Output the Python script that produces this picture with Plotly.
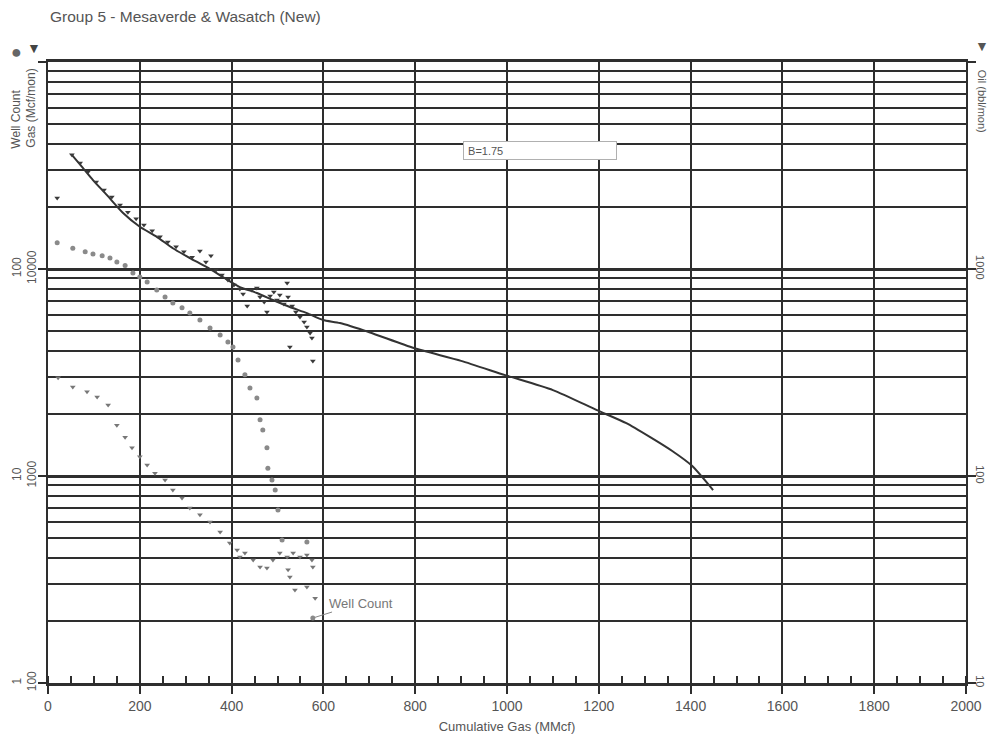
import math
import plotly.graph_objects as go

# ---- data ----
# Gas rate (Mcf/mon), monthly data points
gas_cum = [20, 52, 70, 87, 105, 122, 139, 157, 174, 192, 209, 227, 244, 261, 279, 296, 314,
           331, 344, 355, 366, 379, 392, 405, 418, 425, 434, 444, 455, 462, 471, 477, 484,
           492, 499, 505, 514, 521, 523, 527, 532, 540, 549, 558, 564, 571, 575, 577]
gas_rate = [22000, 35600, 32500, 29400, 26300, 24100, 22300, 20400, 18800, 17500, 16300, 15300,
            14300, 13500, 12800, 12100, 11400, 12200, 10800, 11600, 9890, 9360, 8850, 8370,
            8000, 7570, 6620, 7920, 8090, 7330, 6930, 6190, 7410, 7740, 7080, 7480, 6780, 8550,
            7330, 4200, 6620, 6190, 5860, 5550, 5250, 4910, 4640, 3590]

# Forecast (b = 1.75)
fc_cum = [52, 76, 98, 128, 163, 200, 237, 272, 309, 346, 381, 418, 455, 490, 527, 564, 599,
          636, 700, 797, 900, 996, 1100, 1196, 1260, 1312, 1360, 1403, 1449]
fc_rate = [35600, 30800, 26900, 22800, 18700, 16000, 14300, 12600, 11300, 10200, 9150, 8180,
           7660, 7080, 6550, 6120, 5670, 5480, 4950, 4150, 3600, 3070, 2600, 2080, 1800, 1540,
           1320, 1120, 855]

# Oil rate (bbl/mon)
oil_cum = [22, 54, 85, 107, 131, 150, 168, 183, 200, 216, 233, 255, 272, 292, 309, 331, 353,
           375, 396, 412, 418, 429, 447, 462, 477, 490, 505, 521, 523, 527, 534, 538, 549,
           564, 564, 575, 577, 582]
oil_rate = [298, 269, 255, 241, 220, 176, 154, 137, 124, 113, 103, 95.7, 85.5, 78.3, 70.0,
            64.9, 60.0, 53.6, 47.5, 43.9, 40.6, 42.5, 39.3, 36.3, 35.9, 39.3, 42.5, 40.6, 35.2,
            32.5, 42.5, 28.1, 40.6, 41.5, 29.1, 39.3, 36.3, 25.7]

# Well count
wc_cum = [20, 54, 81, 98, 118, 135, 150, 168, 185, 200, 216, 237, 255, 272, 292, 309, 331,
          353, 375, 392, 403, 414, 429, 440, 455, 462, 468, 477, 479, 488, 495, 501, 510, 564, 577]
wc_val = [134, 126, 121, 118, 116, 113, 108, 104, 95.7, 91.5, 86.5, 79.2, 73.3, 68.5, 64.9,
          61.3, 56.7, 51.9, 48.0, 44.4, 42.0, 36.3, 30.8, 26.6, 23.8, 18.7, 16.7, 13.7, 10.9,
          9.57, 8.55, 6.85, 4.91, 4.80, 2.06]

x_ticks = [0, 200, 400, 600, 800, 1000, 1200, 1400, 1600, 1800, 2000]
gas_major = [100, 1000, 10000, 100000]
gas_major_text = ["1<br>100", "10<br>1000", "100<br>10000", ""]
gas_minor = [m * d for d in (100, 1000, 10000) for m in range(2, 10)]
oil_major = [10, 100, 1000, 10000]
oil_major_text = ["10", "100", "1000", ""]

FONT = "Liberation Sans, Arial, sans-serif"
GRID = "#2e2e2e"
TXT = "#555555"

fig = go.Figure()
fig.add_trace(go.Scatter(x=fc_cum, y=fc_rate, mode="lines", yaxis="y",
                         line=dict(color="#333333", width=2, shape="spline", smoothing=0.6),
                         showlegend=False))
fig.add_trace(go.Scatter(x=gas_cum, y=gas_rate, mode="markers", yaxis="y",
                         marker=dict(symbol="triangle-down", size=5, color="#3a3a3a"),
                         showlegend=False))
fig.add_trace(go.Scatter(x=wc_cum, y=wc_val, mode="markers", yaxis="y3",
                         marker=dict(symbol="circle", size=5, color="#8a8a8a"),
                         showlegend=False))
fig.add_trace(go.Scatter(x=oil_cum, y=oil_rate, mode="markers", yaxis="y2",
                         marker=dict(symbol="triangle-down", size=5, color="#777777"),
                         showlegend=False))

fig.update_layout(
    width=989, height=740,
    margin=dict(l=48, r=23, t=62, b=57, autoexpand=False),
    paper_bgcolor="white", plot_bgcolor="white",
    font=dict(family=FONT, color=TXT, size=12),
    showlegend=False,
    xaxis=dict(range=[0, 2000], tickvals=x_ticks, showgrid=True, gridcolor=GRID, gridwidth=2,
               showline=True, linecolor=GRID, linewidth=3, mirror=True, automargin=False,
               ticks="outside", ticklen=8, tickwidth=2, tickcolor=GRID,
               tickfont=dict(size=14, color=TXT), zeroline=False,
               minor=dict(dtick=50, ticks="inside", ticklen=7, tickwidth=2, tickcolor=GRID,
                          showgrid=False),
               title=dict(text="Cumulative Gas (MMcf)", font=dict(size=13, color=TXT), standoff=10)),
    yaxis=dict(type="log", range=[2, 5], tickvals=gas_major, ticktext=gas_major_text,
               tickangle=-90, tickfont=dict(size=12, color=TXT), automargin=False,
               ticklabelstandoff=-3,
               showgrid=True, gridcolor=GRID, gridwidth=3,
               showline=True, linecolor=GRID, linewidth=2,
               ticks="outside", ticklen=8, tickwidth=2, tickcolor=GRID, zeroline=False,
               minor=dict(tickvals=gas_minor, showgrid=True, gridcolor=GRID, gridwidth=2, ticks="")),
    yaxis2=dict(type="log", range=[1, 4], overlaying="y", side="right",
                tickvals=oil_major, ticktext=oil_major_text, tickangle=90, automargin=False,
                ticklabelstandoff=-4,
                tickfont=dict(size=11, color=TXT), showgrid=False,
                showline=True, linecolor=GRID, linewidth=2,
                ticks="outside", ticklen=8, tickwidth=2, tickcolor=GRID, zeroline=False),
    yaxis3=dict(type="log", range=[0, 3], overlaying="y", visible=False),
)

anns = [
    dict(text="Group 5 - Mesaverde & Wasatch (New)", xref="paper", yref="paper", x=0, y=1.0725,
         xanchor="left", yanchor="middle", showarrow=False, font=dict(size=15.5, color=TXT)),
    dict(text="Well Count", xref="paper", yref="paper", x=-0.0349, y=0.858, textangle=-90,
         xanchor="center", yanchor="bottom", showarrow=False, font=dict(size=12, color=TXT)),
    dict(text="Gas (Mcf/mon)", xref="paper", yref="paper", x=-0.0185, y=0.858, textangle=-90,
         xanchor="center", yanchor="bottom", showarrow=False, font=dict(size=12, color=TXT)),
    dict(text="\u25cf", xref="paper", yref="paper", x=-0.042, y=1.036, showarrow=False,
         font=dict(size=18, color="#666666")),
    dict(text="\u25bc", xref="paper", yref="paper", x=-0.025, y=1.038, showarrow=False,
         font=dict(size=14, color="#444444")),
    dict(text="\u25bc", xref="paper", yref="paper", x=1.027, y=1.042, showarrow=False,
         font=dict(size=14, color="#555555")),
    dict(text="Oil (bbl/mon)", xref="paper", yref="paper", x=1.0174, y=0.99, textangle=90,
         xanchor="center", yanchor="top", showarrow=False, font=dict(size=11, color=TXT)),
    dict(text=" B=1.75", xref="x", yref="paper", x=904, y=0.857, xanchor="left", yanchor="middle",
         showarrow=False, width=150, height=15, align="left", bgcolor="white",
         bordercolor="#b0b0b0", borderwidth=1, borderpad=1, font=dict(size=11, color="#555555")),
    dict(text="Well Count", xref="x", yref="y3", x=wc_cum[-1], y=math.log10(wc_val[-1]),
         showarrow=True, arrowhead=0, arrowwidth=1, arrowcolor="#888888", ax=48, ay=-15,
         font=dict(size=13, color="#777777")),
]
fig.update_layout(annotations=anns)

# remove the default page margin so the 989x740 figure fills the window exactly
fig.write_html("out.html", config={"displayModeBar": False},
               post_script="document.body.style.margin='0px';document.body.style.overflow='hidden';")
